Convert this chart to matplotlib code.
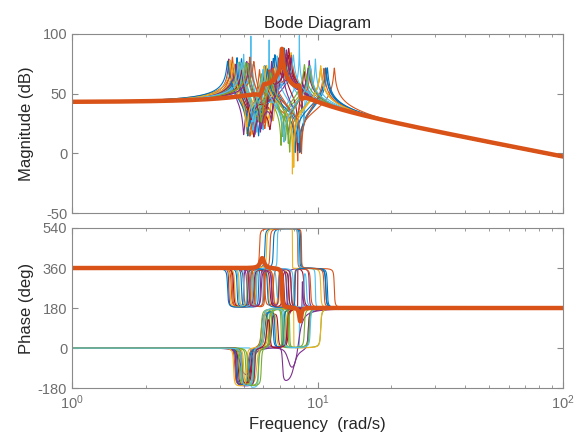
import numpy as np
import matplotlib
matplotlib.use("Agg")
import matplotlib.pyplot as plt
from matplotlib.ticker import LogLocator, NullFormatter, FixedLocator

plt.rcParams['font.family'] = ['Liberation Sans', 'DejaVu Sans']
plt.rcParams['axes.unicode_minus'] = False

# MATLAB default colour order
colors = ['#0072BD', '#D95319', '#EDB120', '#7E2F8E', '#77AC30', '#4DBEEE', '#A2142F']

# sampled plants (uncertain model): modal frequencies in rad/s
# pattern: how the phase steps are displayed (A/D start at 0, B/C start at 360)
pattern = ['D', 'B', 'B', 'C', 'A', 'A', 'C', 'B', 'D', 'B', 'D', 'A', 'C', 'D', 'B', 'B', 'D',
           'C', 'A', 'B', 'B', 'D', 'C', 'B', 'D', 'A', 'B', 'D', 'C', 'B', 'A', 'B', 'A', 'A']
p1 = [4.70, 4.50, 4.60, 4.35, 4.85, 5.35, 5.00, 4.90, 4.60, 4.80, 4.85, 4.95, 5.40, 4.75, 4.70, 4.45, 5.00,
      5.15, 4.80, 5.00, 4.55, 4.65, 5.50, 4.40, 4.65, 5.10, 4.75, 4.90, 4.30, 5.30, 4.55, 5.25, 5.20, 4.90]
z1 = [5.30, 5.35, 5.40, 5.00, 5.45, 5.75, 5.60, 5.55, 5.20, 5.60, 5.40, 5.55, 6.00, 5.40, 5.75, 5.30, 5.65,
      5.85, 5.50, 5.65, 5.50, 5.25, 6.10, 5.15, 5.55, 5.75, 5.45, 5.35, 5.20, 6.05, 5.15, 5.90, 5.90, 5.45]
p2 = [6.60, 5.80, 6.90, 6.50, 6.00, 6.35, 7.30, 6.10, 6.30, 7.00, 7.60, 6.20, 7.50, 6.90, 6.60, 6.60, 6.80,
      7.80, 5.90, 6.85, 7.20, 6.70, 6.60, 6.20, 7.20, 6.35, 6.95, 6.40, 6.25, 6.40, 6.05, 6.95, 6.45, 6.00]
z2 = [6.00, 8.30, 6.30, 7.60, 7.10, 7.20, 8.30, 8.45, 5.90, 6.60, 8.30, 7.40, 8.80, 6.50, 8.55, 6.10, 6.30,
      8.65, 7.70, 8.35, 6.40, 6.10, 8.05, 7.90, 8.00, 7.20, 6.80, 6.20, 8.10, 8.60, 8.00, 6.50, 7.60, 7.30]
p3 = [7.28, 11.7, 7.61, 9.25, 9.18, 8.43, 8.80, 10.8, 7.52, 7.81, 8.39, 9.24, 9.02, 7.60, 10.96, 7.82, 7.43,
      8.71, 10.3, 9.80, 7.63, 7.30, 9.37, 10.3, 9.16, 8.84, 7.97, 7.51, 10.8, 10.62, 10.3, 7.46, 9.25, 9.34]
# damping ratios: poles, first zero pair, second zero pair
zeta_p = [0.005, 0.004, 0.005, 0.003, 0.006, 0.0003, 0.005, 0.004, 0.006, 0.004,
          0.03, 0.005, 0.005, 0.006, 0.004, 0.005, 0.006, 0.004, 0.006, 0.002,
          0.005, 0.004, 0.005, 0.004, 0.006, 0.005, 0.004, 0.006, 0.005, 0.004,
          0.005, 0.004, 0.006, 0.005]
zeta_z1 = [0.010, 0.003, 0.006, 0.0035, 0.006, 0.003, 0.0045, 0.0025, 0.010, 0.006,
           0.030, 0.006, 0.003, 0.010, 0.003, 0.006, 0.010, 0.0035, 0.006, 0.003,
           0.006, 0.010, 0.003, 0.0035, 0.0045, 0.006, 0.006, 0.010, 0.0035, 0.003,
           0.0045, 0.006, 0.005, 0.0045]
zeta_z2 = [0.010, 0.0015, 0.006, 0.004, 0.002, 0.003, 0.0002, 0.002, 0.010, 0.006,
           0.030, 0.003, 0.0015, 0.010, 0.002, 0.006, 0.010, 0.001, 0.002, 0.002,
           0.006, 0.010, 0.002, 0.0002, 0.030, 0.003, 0.006, 0.010, 0.002, 0.0015,
           0.0004, 0.006, 0.002, 0.003]
dc_db = 43.0

# phase step directions for (p1, z1, p2, z2, p3) and starting phase
pattern_dirs = {'A': (-1, 1, 1, -1, 1), 'B': (-1, 1, 1, -1, -1),
                'C': (-1, 1, -1, 1, -1), 'D': (-1, 1, -1, 1, 1)}
pattern_start = {'A': 0, 'B': 360, 'C': 360, 'D': 0}

# nominal plant
nom_freq = [5.90, 6.00, 7.16, 8.45, 8.55]   # z, p, p, p, z
nom_kind = ['z', 'p', 'p', 'p', 'z']
nom_zeta = [0.02, 0.02, 0.0035, 0.01, 0.01]
nom_dirs = [1, -1, -1, -1, 1]
nom_start = 360

w = np.logspace(0, 2, 8000)


def second_order(wn, zeta):
    t = (wn ** 2 - w ** 2) + 2j * zeta * wn * w
    return 20 * np.log10(np.abs(t) / wn ** 2), np.degrees(np.angle(t))


def response(freqs, kinds, zetas, dirs, start):
    mag = np.full_like(w, dc_db)
    ph = np.full_like(w, float(start))
    for wn, k, z, d in zip(freqs, kinds, zetas, dirs):
        m, a = second_order(wn, z)
        mag += m if k == 'z' else -m
        ph += d * a
    return mag, ph


fig = plt.figure(figsize=(5.86, 4.41), dpi=100)
ax1 = fig.add_axes([0.1229, 0.517, 0.838, 0.406])
ax2 = fig.add_axes([0.1229, 0.120, 0.838, 0.363])

kinds = ['p', 'z', 'p', 'z', 'p']
for i in range(len(p1)):
    freqs = [p1[i], z1[i], p2[i], z2[i], p3[i]]
    zs = [zeta_p[i], zeta_z1[i], zeta_p[i], zeta_z2[i], zeta_p[i]]
    mag, ph = response(freqs, kinds, zs, pattern_dirs[pattern[i]], pattern_start[pattern[i]])
    c = colors[i % len(colors)]
    ax1.semilogx(w, mag, color=c, lw=0.8)
    ax2.semilogx(w, ph, color=c, lw=0.8)

mag, ph = response(nom_freq, nom_kind, nom_zeta, nom_dirs, nom_start)
ax1.semilogx(w, mag, color='#D95319', lw=3.2)
ax2.semilogx(w, ph, color='#D95319', lw=3.2)

edge = '#8a8a8a'
tickc = '#6e6e6e'
labc = '#262626'
for ax in (ax1, ax2):
    ax.set_xlim(1, 100)
    ax.xaxis.set_major_locator(LogLocator(base=10, numticks=5))
    ax.xaxis.set_minor_locator(LogLocator(base=10, subs=np.arange(2, 10), numticks=20))
    ax.xaxis.set_minor_formatter(NullFormatter())
    ax.tick_params(which='both', direction='in', top=True, right=True, colors=edge,
                   labelcolor=tickc, labelsize=10.5)
    ax.tick_params(which='major', length=4)
    ax.tick_params(which='minor', length=2.5)
    for s in ax.spines.values():
        s.set_color(edge)
        s.set_linewidth(0.8)

ax1.set_ylim(-50, 100)
ax1.yaxis.set_major_locator(FixedLocator([-50, 0, 50, 100]))
ax1.tick_params(axis='x', labelbottom=False)
ax2.set_ylim(-180, 540)
ax2.yaxis.set_major_locator(FixedLocator([-180, 0, 180, 360, 540]))

ax1.set_ylabel('Magnitude (dB)', fontsize=12, color=labc)
ax2.set_ylabel('Phase (deg)', fontsize=12, color=labc)
ax2.set_xlabel('Frequency  (rad/s)', fontsize=12, color=labc)
ax1.set_title('Bode Diagram', fontsize=12, color=labc, pad=4)
ax1.yaxis.set_label_coords(-0.077, 0.5)
ax2.yaxis.set_label_coords(-0.077, 0.5)

fig.savefig('out.png', dpi=100)
